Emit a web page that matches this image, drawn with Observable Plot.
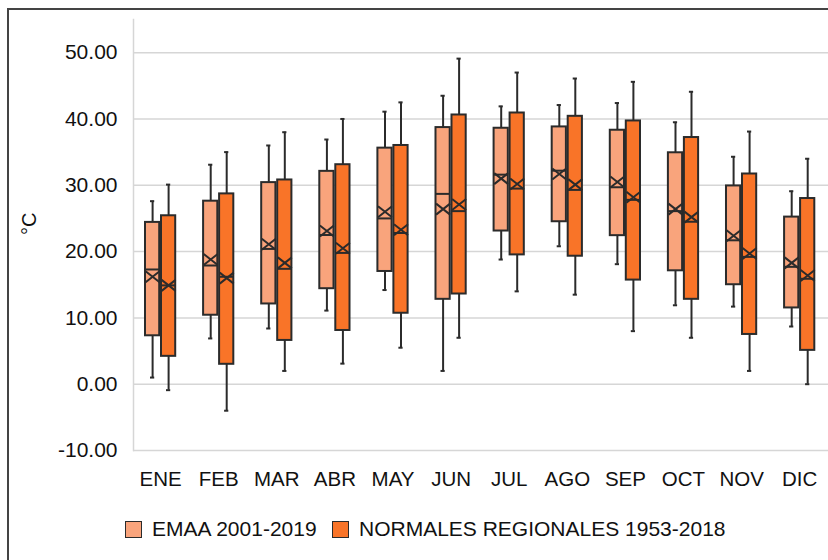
<!DOCTYPE html>
<html>
<head>
<meta charset="utf-8">
<script src="https://cdn.jsdelivr.net/npm/d3@7"></script>
<script src="https://cdn.jsdelivr.net/npm/@observablehq/plot@0.6"></script>
<style>
  html, body { margin: 0; padding: 0; background: #fff; }
  #wrap { position: relative; width: 828px; height: 560px; overflow: hidden; font-family: "Liberation Sans", Arial, sans-serif; }
  #frame { position: absolute; left: 7px; top: 8px; width: 900px; height: 700px; border-left: 2px solid #444; border-top: 2px solid #444; box-sizing: border-box; }
  #chart { position: absolute; left: 0; top: 0; }
  .leg { position: absolute; top: 517px; display: flex; align-items: center; font-size: 21px; color: #111; white-space: nowrap; }
  .sw { width: 15px; height: 15px; border: 1.6px solid #2b2b2b; margin-right: 10px; }
</style>
</head>
<body>
<div id="wrap">
  <div id="frame"></div>
  <div id="chart"></div>
</div>
<script>
const months = ["ENE","FEB","MAR","ABR","MAY","JUN","JUL","AGO","SEP","OCT","NOV","DIC"];
const seriesNames = ["EMAA 2001-2019", "NORMALES REGIONALES 1953-2018"];
const seriesColors = ["#F9A47C", "#F97428"];
const yTicks = [-10, 0, 10, 20, 30, 40, 50];

// EMAA 2001-2019
const emaaMin    = [1.0, 6.9, 8.4, 11.1, 14.2, 2.0, 18.8, 20.8, 18.1, 11.9, 11.7, 8.7];
const emaaQ1     = [7.3, 10.4, 12.1, 14.4, 17.0, 12.8, 23.1, 24.5, 22.4, 17.1, 15.0, 11.5];
const emaaMedian = [17.3, 17.9, 20.4, 22.5, 25.0, 28.7, 31.6, 32.2, 29.7, 26.1, 21.7, 17.7];
const emaaMean   = [16.2, 18.8, 21.1, 23.1, 26.0, 26.4, 31.0, 31.7, 30.5, 26.4, 22.4, 18.3];
const emaaQ3     = [24.4, 27.6, 30.4, 32.1, 35.6, 38.7, 38.6, 38.8, 38.3, 34.9, 29.9, 25.2];
const emaaMax    = [27.6, 33.1, 36.0, 36.9, 41.1, 43.5, 41.9, 42.1, 42.4, 39.5, 34.3, 29.1];

// NORMALES REGIONALES 1953-2018
const normMin    = [-0.9, -4.0, 2.0, 3.1, 5.5, 7.0, 14.0, 13.5, 8.0, 7.0, 2.0, 0.0];
const normQ1     = [4.2, 3.0, 6.6, 8.1, 10.7, 13.6, 19.5, 19.3, 15.7, 12.8, 7.5, 5.1];
const normMedian = [14.9, 16.2, 17.4, 19.8, 22.8, 26.1, 29.5, 29.3, 27.8, 24.5, 19.2, 15.9];
const normMean   = [14.9, 16.0, 18.3, 20.5, 23.3, 27.1, 30.2, 30.1, 28.2, 25.2, 19.7, 16.4];
const normQ3     = [25.4, 28.7, 30.8, 33.1, 36.0, 40.6, 40.9, 40.4, 39.7, 37.2, 31.7, 28.0];
const normMax    = [30.1, 35.0, 38.0, 40.0, 42.5, 49.1, 47.0, 46.1, 45.6, 44.1, 38.1, 34.0];

function build(mins, q1s, meds, means, q3s, maxs) {
  return months.map((m, i) => ({month: m, min: mins[i], q1: q1s[i], median: meds[i], mean: means[i], q3: q3s[i], max: maxs[i]}));
}
const emaa = build(emaaMin, emaaQ1, emaaMedian, emaaMean, emaaQ3, emaaMax);
const norm = build(normMin, normQ1, normMedian, normMean, normQ3, normMax);

const xSymbol = {
  draw(context) {
    const w = 7, h = 5.5;
    context.moveTo(-w, -h); context.lineTo(w, h);
    context.moveTo(w, -h); context.lineTo(-w, h);
  }
};

const ink = "#2b2b2b";
const sw = 2;
function boxMarks(data, color, side) {
  // side: -1 left (light), +1 right (dark)
  const off = 8 * side;
  const inset = side < 0 ? {insetRight: 16} : {insetLeft: 16};
  const capInset = side < 0 ? {insetLeft: 5, insetRight: 21} : {insetLeft: 21, insetRight: 5};
  return [
    Plot.ruleX(data, {x: "month", y1: "min", y2: "max", dx: off, stroke: ink, strokeWidth: sw}),
    Plot.tickY(data, {x: "month", y: "min", stroke: ink, strokeWidth: sw, ...capInset}),
    Plot.tickY(data, {x: "month", y: "max", stroke: ink, strokeWidth: sw, ...capInset}),
    Plot.barY(data, {x: "month", y1: "q1", y2: "q3", fill: color, stroke: ink, strokeWidth: sw, ...inset}),
    Plot.tickY(data, {x: "month", y: "median", stroke: ink, strokeWidth: sw, ...inset}),
    Plot.dot(data, {x: "month", y: "mean", dx: off, symbol: xSymbol, fill: "none", stroke: ink, strokeWidth: sw})
  ];
}

const chart = Plot.plot({
  width: 828,
  height: 500,
  marginLeft: 133,
  marginRight: 0,
  marginTop: 19,
  marginBottom: 50,
  style: {fontFamily: "'Liberation Sans', Arial, sans-serif", fontSize: "20px", color: "#111", background: "transparent"},
  x: {domain: months, range: [145, 814.3], paddingInner: 0.48, paddingOuter: 0, round: false, label: null},
  y: {domain: [-10, 55], label: null},
  marks: [
    Plot.gridY(yTicks, {stroke: "#d6d6d6", strokeOpacity: 1, strokeWidth: 1.5}),
    Plot.frame({anchor: "left", stroke: "#d6d6d6", strokeWidth: 1.5}),
    Plot.axisY(yTicks, {tickSize: 0, tickPadding: 16, fontSize: 21, tickFormat: d => d.toFixed(2)}),
    Plot.axisX({tickSize: 0, tickPadding: 21, fontSize: 20.5}),
    Plot.text(["°C"], {frameAnchor: "left", dx: -104, rotate: -90, fontSize: 20, fill: "#111"}),
    ...boxMarks(emaa, seriesColors[0], -1),
    ...boxMarks(norm, seriesColors[1], 1)
  ]
});
document.getElementById("chart").appendChild(chart);

const wrap = document.getElementById("wrap");
const legendX = [125, 332];
seriesNames.forEach((name, i) => {
  const d = document.createElement("div");
  d.className = "leg";
  d.style.left = legendX[i] + "px";
  const s = document.createElement("div");
  s.className = "sw";
  s.style.background = seriesColors[i];
  const t = document.createElement("span");
  t.textContent = name;
  d.appendChild(s); d.appendChild(t);
  wrap.appendChild(d);
});
</script>
</body>
</html>
